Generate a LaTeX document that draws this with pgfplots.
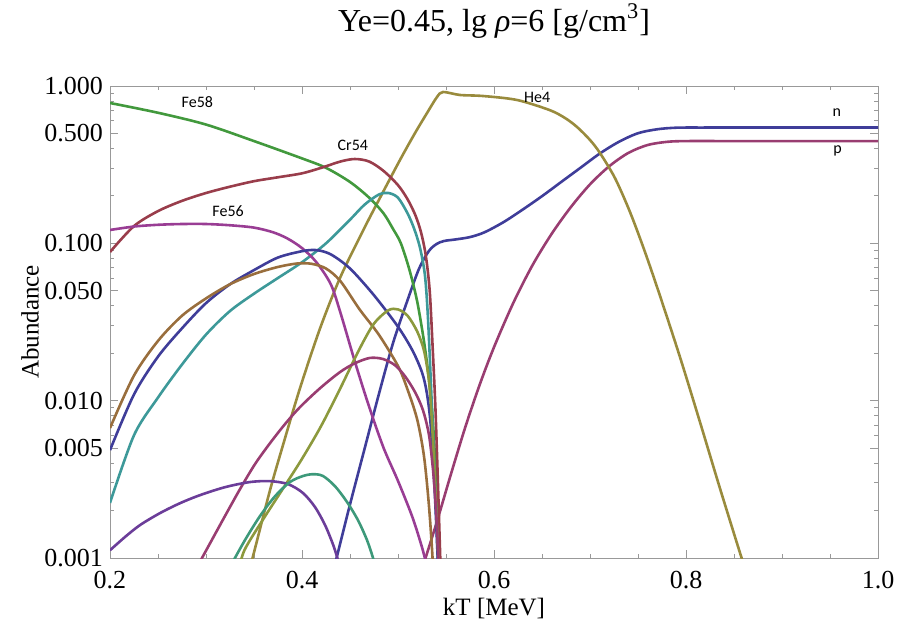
\documentclass[border=0pt]{standalone}
\usepackage{pgfplots}
\pgfplotsset{compat=1.18}
\usepackage{fontspec}
\setmainfont{Liberation Serif}
\newfontfamily\labelfont{Carlito}

\definecolor{cN}{rgb}{0.247,0.24,0.6}
\definecolor{cP}{rgb}{0.6,0.24,0.443}
\definecolor{cHe}{rgb}{0.6,0.546,0.24}
\definecolor{cFeA}{rgb}{0.26,0.6,0.24}
\definecolor{cCr}{rgb}{0.6,0.24,0.294}
\definecolor{cTeal}{rgb}{0.24,0.6,0.6}
\definecolor{cFeB}{rgb}{0.6,0.24,0.58}
\definecolor{cBrown}{rgb}{0.6,0.43,0.24}
\definecolor{cYg}{rgb}{0.55,0.6,0.24}
\definecolor{cViol}{rgb}{0.42,0.24,0.6}
\definecolor{cSea}{rgb}{0.24,0.6,0.48}

\begin{document}
\begin{tikzpicture}
\begin{axis}[
    at={(0,0)}, anchor=south west,
    scale only axis,
    width=384pt, height=236pt,
    ymode=log,
    xmin=0.2, xmax=1.0,
    ymin=0.001, ymax=1,
    xtick={0.2,0.4,0.6,0.8,1.0},
    xticklabels={0.2,0.4,0.6,0.8,1.0},
    minor xtick={0.25,0.3,0.35,0.45,0.5,0.55,0.65,0.7,0.75,0.85,0.9,0.95},
    ytick={0.001,0.005,0.01,0.05,0.1,0.5,1},
    yticklabels={0.001,0.005,0.010,0.050,0.100,0.500,1.000},
    minor ytick={0.002,0.003,0.004,0.006,0.007,0.008,0.009,
                 0.02,0.03,0.04,0.06,0.07,0.08,0.09,
                 0.2,0.3,0.4,0.6,0.7,0.8,0.9},
    tick align=inside,
    major tick length=4pt,
    minor tick length=2.2pt,
    axis line style={gray!80},
    every tick/.style={gray!80, line width=0.5pt},
    ticklabel style={font=\fontsize{13}{15}\selectfont},
    xticklabel style={yshift=-3pt},
    title={Ye=0.45, lg \textit{ρ}=6 [g/cm\textsuperscript{3}]},
    title style={at={(axis description cs:0.5,1.1123)}, anchor=center,
                 font=\fontsize{16}{19}\selectfont},
    xlabel={kT [MeV]},
    xlabel style={at={(axis description cs:0.5,-0.106)}, anchor=center,
                  font=\fontsize{12.5}{14}\selectfont},
    ylabel={Abundance},
    ylabel style={at={(axis description cs:-0.104,0.5)}, anchor=center,
                  font=\fontsize{12.5}{14}\selectfont},
    every axis plot/.append style={line width=1.3pt, smooth},
]

% n
\addplot[cN] coordinates {
 (0.432,0.00079) (0.436,0.001) (0.45,0.00219) (0.465,0.0049) (0.48,0.01096)
 (0.495,0.02344) (0.51,0.04365) (0.522,0.0692) (0.532,0.0891) (0.54,0.0989)
 (0.548,0.1035) (0.56,0.1059) (0.575,0.1096) (0.59,0.1175) (0.61,0.1365)
 (0.63,0.1641) (0.65,0.1995) (0.67,0.2455) (0.69,0.302) (0.71,0.3715)
 (0.73,0.4416) (0.75,0.5012) (0.77,0.5309) (0.79,0.5433) (0.82,0.5445)
 (0.9,0.5445) (1.0,0.5445)
};
% p
\addplot[cP] coordinates {
 (0.525,0.00085) (0.54,0.00166) (0.555,0.00339) (0.57,0.00676) (0.585,0.01259)
 (0.60,0.02188) (0.62,0.04169) (0.64,0.07244) (0.66,0.1148) (0.68,0.1698)
 (0.70,0.2371) (0.72,0.309) (0.74,0.3758) (0.76,0.4217) (0.78,0.4416)
 (0.80,0.4467) (0.85,0.4467) (0.92,0.4467) (1.0,0.4467)
};
% He4
\addplot[cHe] coordinates {
 (0.345,0.00087) (0.3479,0.00097) (0.3667,0.0027) (0.3802,0.00522) (0.3979,0.012)
 (0.4188,0.0288) (0.4396,0.0603) (0.4635,0.1202) (0.4813,0.195) (0.5021,0.339)
 (0.5177,0.502) (0.5302,0.673) (0.5406,0.851) (0.5469,0.916) (0.5646,0.877)
 (0.5885,0.864) (0.624,0.815) (0.658,0.703) (0.674,0.626) (0.6865,0.549)
 (0.7,0.454) (0.7104,0.375) (0.726,0.26) (0.7417,0.158) (0.7573,0.088)
 (0.773,0.0462) (0.794,0.0187) (0.8146,0.0073) (0.835,0.00282) (0.856,0.00109)
 (0.8615,0.00086)
};
% Fe58
\addplot[cFeA] coordinates {
 (0.20,0.78) (0.25,0.6761) (0.30,0.5689) (0.35,0.4467) (0.40,0.3467)
 (0.425,0.302) (0.45,0.2455) (0.47,0.195) (0.485,0.1549) (0.495,0.123)
 (0.503,0.1) (0.512,0.0676) (0.52,0.04266) (0.527,0.024) (0.532,0.01413)
 (0.536,0.00794) (0.540,0.00282) (0.543,0.00089) (0.546,0.00032)
};
% Cr54
\addplot[cCr] coordinates {
 (0.20,0.0881) (0.225,0.1288) (0.25,0.1603) (0.275,0.1862)
 (0.30,0.2089) (0.325,0.2291) (0.35,0.2483) (0.375,0.263) (0.40,0.2786)
 (0.42,0.302) (0.44,0.3311) (0.455,0.3436) (0.47,0.3311) (0.485,0.2884)
 (0.50,0.2344) (0.51,0.1905) (0.518,0.1514) (0.524,0.1175) (0.529,0.0832)
 (0.533,0.0501) (0.536,0.02239) (0.539,0.00891) (0.542,0.00251) (0.545,0.00063)
};
% teal
\addplot[cTeal] coordinates {
 (0.20,0.00224) (0.225,0.00603) (0.25,0.01047) (0.275,0.01698)
 (0.30,0.0263) (0.325,0.03715) (0.35,0.04786) (0.375,0.06026) (0.40,0.07586)
 (0.425,0.1) (0.45,0.1413) (0.465,0.1758) (0.48,0.2042) (0.49,0.2089)
 (0.50,0.195) (0.51,0.1549) (0.517,0.123) (0.523,0.0933) (0.528,0.0631)
 (0.531,0.0355) (0.534,0.01413) (0.537,0.00501) (0.540,0.00178) (0.543,0.0005)
};
% Fe56
\addplot[cFeB] coordinates {
 (0.20,0.1216) (0.225,0.1279) (0.25,0.1312) (0.275,0.1327) (0.30,0.1327)
 (0.325,0.1303) (0.35,0.1259) (0.37,0.1175) (0.385,0.1072) (0.40,0.0933)
 (0.415,0.07586) (0.43,0.05495) (0.44,0.03631) (0.455,0.01778) (0.47,0.00912)
 (0.485,0.00501) (0.50,0.00309) (0.515,0.00182) (0.525,0.00117) (0.53,0.00089)
};
% blue, second species
\addplot[cN] coordinates {
 (0.20,0.00485) (0.225,0.01096) (0.25,0.01905) (0.275,0.02884)
 (0.30,0.04169) (0.325,0.05495) (0.35,0.06761) (0.375,0.08128) (0.40,0.08913)
 (0.415,0.0906) (0.43,0.0851) (0.45,0.0692) (0.475,0.04677) (0.50,0.02951)
 (0.515,0.02089) (0.525,0.01514) (0.53,0.01122) (0.534,0.00708) (0.538,0.00282)
 (0.541,0.00112) (0.544,0.0004)
};
% brown
\addplot[cBrown] coordinates {
 (0.20,0.0067) (0.225,0.01445) (0.25,0.02399) (0.275,0.03467)
 (0.30,0.04467) (0.325,0.05495) (0.35,0.06383) (0.375,0.07079) (0.395,0.07447)
 (0.41,0.07413) (0.425,0.06918) (0.44,0.05754) (0.46,0.03802) (0.48,0.0263)
 (0.50,0.0166) (0.51,0.01175) (0.52,0.00759) (0.527,0.00447) (0.532,0.00224)
 (0.536,0.001) (0.539,0.0004)
};
% yellow-green
\addplot[cYg] coordinates {
 (0.333,0.00079) (0.34,0.00112) (0.36,0.00178) (0.38,0.00275) (0.40,0.00427)
 (0.42,0.00692) (0.44,0.01202) (0.46,0.02138) (0.475,0.0309) (0.49,0.03758)
 (0.50,0.03802) (0.51,0.03467) (0.52,0.02754) (0.527,0.02089) (0.532,0.0138)
 (0.535,0.00794) (0.538,0.00355) (0.541,0.00141) (0.544,0.0005)
};
% crimson
\addplot[cP] coordinates {
 (0.2917,0.0009) (0.3042,0.00124) (0.3198,0.00185) (0.3354,0.00274) (0.351,0.00395)
 (0.3667,0.00537) (0.3823,0.0071) (0.3979,0.0091) (0.4188,0.012) (0.4396,0.0152)
 (0.4552,0.0173) (0.4708,0.0187) (0.4844,0.0184) (0.4969,0.0168) (0.5073,0.0143)
 (0.5177,0.01135) (0.526,0.0087) (0.5323,0.00604) (0.5365,0.00362) (0.5396,0.00202)
 (0.5417,0.00112) (0.5438,0.00054)
};
% violet
\addplot[cViol] coordinates {
 (0.2,0.00112) (0.2156,0.00136) (0.2313,0.00162) (0.2521,0.00193) (0.2729,0.00223)
 (0.2938,0.00251) (0.3198,0.00282) (0.3458,0.00304) (0.3667,0.00308) (0.3854,0.00295)
 (0.401,0.00259) (0.4135,0.00211) (0.424,0.00162) (0.4323,0.00122) (0.4375,0.00097)
 (0.4406,0.00081)
};
% sea-green
\addplot[cSea] coordinates {
 (0.326,0.0009) (0.3406,0.0013) (0.3563,0.00185) (0.3719,0.00247) (0.3875,0.00304)
 (0.401,0.00332) (0.4115,0.00341) (0.4219,0.00332) (0.4344,0.00286) (0.4469,0.00227)
 (0.4583,0.00174) (0.4677,0.0013) (0.474,0.001) (0.4771,0.00084)
};

\node[font=\labelfont\fontsize{8}{9}\selectfont] at (axis cs:0.291,0.79) {Fe58};
\node[font=\labelfont\fontsize{8}{9}\selectfont] at (axis cs:0.453,0.422) {Cr54};
\node[font=\labelfont\fontsize{8}{9}\selectfont] at (axis cs:0.323,0.160) {Fe56};
\node[font=\labelfont\fontsize{8}{9}\selectfont] at (axis cs:0.645,0.851) {He4};
\node[font=\labelfont\fontsize{8}{9}\selectfont] at (axis cs:0.957,0.673) {n};
\node[font=\labelfont\fontsize{8}{9}\selectfont] at (axis cs:0.958,0.386) {p};
\end{axis}
\pgfresetboundingbox
\path[use as bounding box] (-55pt,-37.5pt) rectangle (393.5pt,279pt);
\end{tikzpicture}
\end{document}
